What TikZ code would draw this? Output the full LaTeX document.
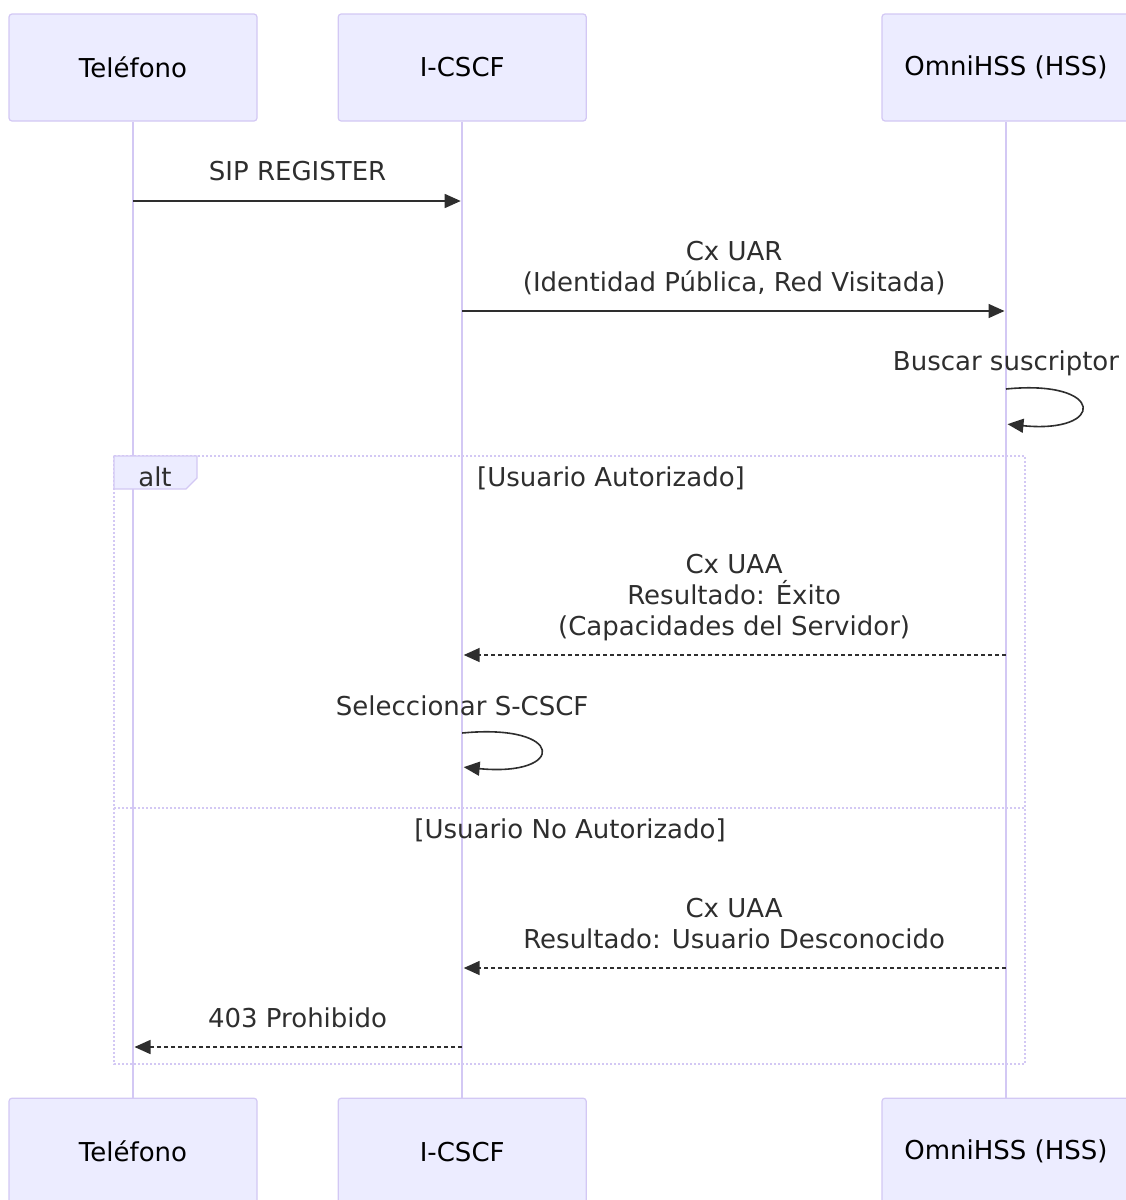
\documentclass[tikz,border=0pt]{standalone}
\usepackage{fontspec}
\setmainfont{DejaVu Sans}
\usetikzlibrary{arrows.meta, positioning}
\definecolor{actorfill}{HTML}{ECECFF}
\definecolor{actorline}{HTML}{D3C8F4}
\definecolor{ink}{HTML}{2E2E2E}

\begin{document}
\begin{tikzpicture}[x=1pt, y=-1pt, node distance=976pt and 82pt,
    actor/.style={rectangle, draw=actorline, fill=actorfill, line width=1.2pt, rounded corners=3pt, minimum width=248pt, minimum height=107pt, text=black, font=\fontsize{26}{31}\selectfont},
    lifeline/.style={draw=actorline, line width=1.8pt},
    line/.style={draw=ink, line width=1.6pt, shorten >=1.5pt, -{Triangle[length=16pt,width=14pt]}},
    reply/.style={line, dash pattern=on 4pt off 3pt},
    msg/.style={text=ink, align=center, anchor=base, inner sep=0pt, font=\fontsize{26}{31}\selectfont},
    frame/.style={draw=actorline, line width=1.6pt, dash pattern=on 2pt off 2pt},
    labelbox/.style={draw=actorline, fill=actorfill, line width=1.2pt}]
    \useasboundingbox (0,0) rectangle (1126,1200);
    % participants
    \node [actor] (telTop) at (133,67.5) {Teléfono};
    \node [actor, right=80pt of telTop] (icscfTop) {I-CSCF};
    \node [actor, right=294.6pt of icscfTop] (hssTop) {OmniHSS (HSS)};
    \node [actor, below=of telTop] (telBot) {Teléfono};
    \node [actor, below=of icscfTop] (icscfBot) {I-CSCF};
    \node [actor, below=of hssTop] (hssBot) {OmniHSS (HSS)};
    \path [lifeline] (telTop.south) -- (telBot.north);
    \path [lifeline] (icscfTop.south) -- (icscfBot.north);
    \path [lifeline] (hssTop.south) -- (hssBot.north);
    % alt frame
    \coordinate (altNW) at (114,456);
    \coordinate (altSE) at (1025,1064);
    \draw [frame] (altNW) rectangle (altSE);
    \draw [frame] (altNW |- 0,808) -- (altSE |- 0,808);
    \draw [labelbox] (altNW) -- (197,456) -- (197,478) -- (186,489) -- (altNW |- 0,489) -- cycle;
    \node [msg] (altLbl) at (155,486) {alt};
    \node [msg] (okLbl) at (611,486) {[Usuario Autorizado]};
    \node [msg] (nokLbl) at (570,838) {[Usuario No Autorizado]};
    % messages
    \path [line] (telTop |- 0,201) -- node[msg, yshift=21pt] {SIP REGISTER} (icscfTop |- 0,201);
    \path [line] (icscfTop |- 0,311) -- node[msg, yshift=20pt] {Cx UAR\\(Identidad Pública, Red Visitada)} (hssTop |- 0,311);
    \node [msg] (buscarLbl) at (hssTop |- 0,370) {Buscar suscriptor};
    \path [line] (hssTop |- 0,389) .. controls +(100,-10) and +(100,10) .. (hssTop |- 0,424);
    \path [reply] (hssTop |- 0,655) -- node[msg, yshift=20pt] {Cx UAA\\Resultado: Éxito\\(Capacidades del Servidor)} (icscfTop |- 0,655);
    \node [msg] (selLbl) at (icscfTop |- 0,715) {Seleccionar S-CSCF};
    \path [line] (icscfTop |- 0,733) .. controls +(104,-10) and +(104,10) .. (icscfTop |- 0,767);
    \path [reply] (hssTop |- 0,968) -- node[msg, yshift=20pt] {Cx UAA\\Resultado: Usuario Desconocido} (icscfTop |- 0,968);
    \path [reply] (icscfTop |- 0,1047) -- node[msg, yshift=20pt] {403 Prohibido} (telTop |- 0,1047);
\end{tikzpicture}
\end{document}
